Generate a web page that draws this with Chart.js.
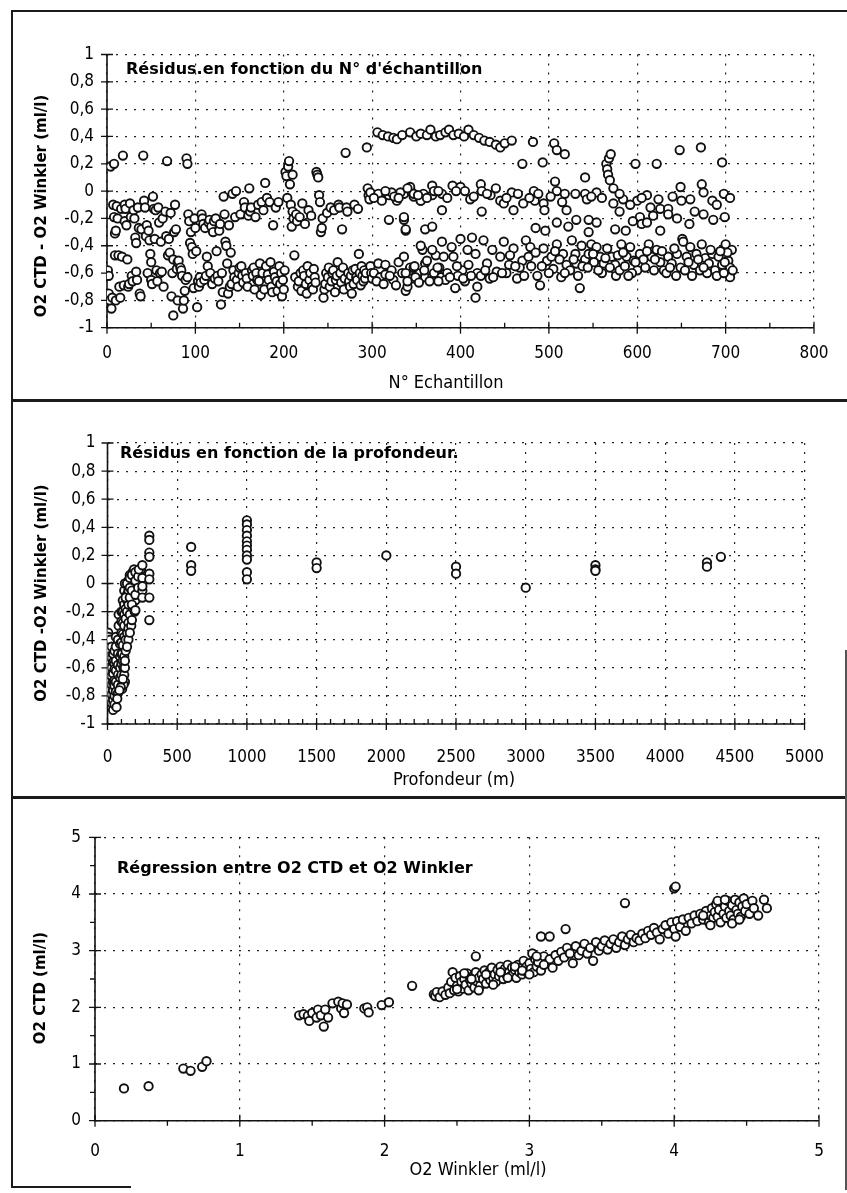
<!DOCTYPE html>
<html>
<head>
<meta charset="utf-8">
<script src="https://cdn.jsdelivr.net/npm/chart.js@4.4.1/dist/chart.umd.min.js"></script>
<style>
html,body{margin:0;padding:0;background:#fff;}
#page{position:relative;width:847px;height:1193px;overflow:hidden;background:#fff;}
canvas{position:absolute;left:0;}
.ln{position:absolute;background:#1b1b1b;z-index:5;}
.t{position:absolute;white-space:nowrap;color:#000;z-index:6;line-height:1;}
.pt{font-family:'DejaVu Sans',sans-serif;font-weight:bold;font-size:16px;transform:translateY(-50%);}
.xt{font-family:'DejaVu Sans Condensed','DejaVu Sans',sans-serif;font-size:18px;transform:translate(-50%,-50%);}
.yt{font-family:'DejaVu Sans',sans-serif;font-weight:bold;font-size:15px;transform:translate(-50%,-50%) rotate(-90deg);}
</style>
</head>
<body>
<div id="page">
  <canvas id="c1" width="847" height="400" style="top:0px"></canvas>
  <canvas id="c2" width="847" height="397" style="top:400px"></canvas>
  <canvas id="c3" width="847" height="396" style="top:797px"></canvas>

  <div class="ln" style="left:11px;top:10px;width:836px;height:2px"></div>
  <div class="ln" style="left:11px;top:10px;width:2px;height:1178px"></div>
  <div class="ln" style="left:11px;top:399px;width:836px;height:2.5px"></div>
  <div class="ln" style="left:11px;top:796px;width:836px;height:2.5px"></div>
  <div class="ln" style="left:11px;top:1186px;width:120px;height:2px"></div>
  <div class="ln" style="left:845px;top:650px;width:1.5px;height:540px;background:#555"></div>

  <div class="t pt" style="left:126px;top:69px">Résidus.en fonction du N° d'échantillon</div>
  <div class="t pt" style="left:120px;top:453px">Résidus en fonction de la profondeur.</div>
  <div class="t pt" style="left:117px;top:868px">Régression entre O2 CTD et O2 Winkler</div>

  <div class="t xt" style="left:446px;top:382px">N° Echantillon</div>
  <div class="t xt" style="left:454px;top:779px">Profondeur (m)</div>
  <div class="t xt" style="left:478px;top:1169px">O2 Winkler (ml/l)</div>

  <div class="t yt" style="left:41px;top:206px">O2 CTD - O2 Winkler (ml/l)</div>
  <div class="t yt" style="left:41px;top:593px">O2 CTD -O2 Winkler (ml/l)</div>
  <div class="t yt" style="left:40px;top:988px">O2 CTD (ml/l)</div>
</div>

<script>
// ---------------- Tick labels ----------------
const xTickLabels1 = ['0','100','200','300','400','500','600','700','800'];
const yTickLabels1 = ['-1','-0,8','-0,6','-0,4','-0,2','0','0,2','0,4','0,6','0,8','1'];
const xTickLabels2 = ['0','500','1000','1500','2000','2500','3000','3500','4000','4500','5000'];
const yTickLabels2 = ['-1','-0,8','-0,6','-0,4','-0,2','0','0,2','0,4','0,6','0,8','1'];
const xTickLabels3 = ['0','1','2','3','4','5'];
const yTickLabels3 = ['0','1','2','3','4','5'];

// ---------------- Panel 1 : residual vs sample number ----------------
const sampleNoA = [
 1,2,2,3,4,5,6,7,8,8,9,9,10,10,
 11,12,13,14,15,16,17,18,19,20,20,
 21,22,23,24,25,26,27,28,29,30,
 31,32,33,33,34,35,36,37,38,39,
 41,42,43,44,45,46,47,48,49,50,50,
 51,52,53,54,55,56,57,58,59,60,
 61,62,63,64,66,67,68,69,70,
 71,72,73,74,75,75,76,77,78,79,80,80,
 81,83,84,85,86,87,88,89,90,91,91,
 92,93,94,95,96,97,98,99,100];
const residualA = [
 -0.58,-0.62,-0.75,-0.8,0.18,-0.86,-0.78,-0.1,0.2,-0.19,-0.31,-0.47,-0.8,-0.29,
 -0.11,-0.2,-0.47,-0.7,-0.78,-0.13,-0.48,0.26,-0.69,-0.1,-0.22,
 -0.13,-0.25,-0.5,-0.7,-0.68,-0.09,-0.19,-0.62,-0.66,-0.14,
 -0.2,-0.34,-0.38,-0.59,-0.65,-0.12,-0.27,-0.75,-0.77,-0.28,
 0.26,-0.07,-0.12,-0.33,-0.25,-0.6,-0.29,-0.36,-0.46,-0.52,-0.65,
 -0.68,-0.04,-0.13,-0.35,-0.14,-0.58,-0.66,-0.12,-0.23,-0.6,
 -0.37,-0.59,-0.2,-0.7,-0.15,-0.33,0.22,-0.47,-0.35,
 -0.45,-0.16,-0.77,-0.6,-0.91,-0.5,-0.3,-0.1,-0.28,-0.57,-0.52,-0.8,
 -0.51,-0.56,-0.58,-0.62,-0.86,-0.8,-0.73,-0.65,0.24,0.2,-0.63,
 -0.17,-0.22,-0.38,-0.3,-0.41,-0.46,-0.71,-0.2,-0.27];

const sampleNoB = [
 101,102,103,104,105,106,107,108,109,110,
 111,112,113,114,115,116,117,118,119,120,
 121,122,123,124,125,126,127,128,129,130,
 131,132,133,134,135,136,137,138,139,140,
 141,142,143,144,145,146,147,148,149,150,
 151,152,153,154,155,156,157,158,159,160,
 161,162,163,164,165,166,167,168,169,170,
 171,172,173,174,175,176,177,178,179,180,
 181,182,183,184,185,186,187,188,189,190,
 191,192,193,194,195,196,197,198,199,200];
const residualB = [
 -0.44,-0.85,-0.66,-0.7,-0.63,-0.67,-0.17,-0.2,-0.24,-0.65,
 -0.27,-0.62,-0.48,-0.55,-0.23,-0.21,-0.6,-0.26,-0.68,-0.3,
 -0.22,-0.64,-0.2,-0.44,-0.62,-0.66,-0.29,-0.24,-0.83,-0.6,
 -0.74,-0.04,-0.17,-0.37,-0.4,-0.53,-0.75,-0.25,-0.7,-0.45,
 -0.68,-0.02,-0.58,-0.63,-0.19,0.0,-0.65,-0.7,-0.6,-0.56,
 -0.17,-0.55,-0.62,-0.67,-0.08,-0.12,-0.6,-0.64,-0.7,-0.18,
 0.02,-0.15,-0.12,-0.58,-0.62,-0.56,-0.72,-0.19,-0.6,-0.65,
 -0.1,-0.66,-0.53,-0.76,-0.08,-0.6,-0.14,-0.72,0.06,-0.55,
 -0.05,-0.61,-0.65,-0.08,-0.52,-0.7,-0.74,-0.25,-0.59,-0.63,
 -0.12,-0.66,-0.73,-0.08,-0.55,-0.68,-0.6,-0.77,-0.65,-0.72];

const sampleNoC = [
 201,202,203,204,205,206,207,208,209,210,210,
 211,212,213,214,215,216,217,218,219,220,
 221,222,223,224,225,226,227,228,229,230,
 231,232,233,234,235,236,237,238,239,240,
 241,242,243,244,245,246,247,248,249,250,
 251,252,253,254,255,256,257,258,259,260,
 261,262,263,264,265,266,267,268,269,270,
 271,272,273,274,275,276,277,278,279,280,
 281,282,283,284,285,286,287,288,289,290,
 291,292,293,294,295,296,297,298,299,300];
const residualC = [
 -0.58,0.14,0.11,-0.05,0.18,0.22,0.05,-0.1,-0.26,-0.15,0.12,
 -0.2,-0.47,-0.63,-0.17,-0.22,-0.7,-0.66,-0.19,-0.6,-0.73,
 -0.09,-0.58,-0.62,-0.24,-0.68,-0.75,-0.55,-0.14,-0.65,-0.6,
 -0.18,-0.7,-0.72,-0.57,-0.63,-0.67,0.14,0.12,0.1,-0.03,
 -0.08,-0.3,-0.27,-0.2,-0.78,-0.72,-0.68,-0.6,-0.16,-0.63,
 -0.56,-0.7,-0.12,-0.66,-0.6,-0.58,-0.14,-0.74,-0.65,-0.62,
 -0.52,-0.1,-0.12,-0.6,-0.67,-0.28,-0.56,-0.72,-0.64,0.28,
 -0.12,-0.15,-0.6,-0.66,-0.7,-0.62,-0.75,-0.58,-0.68,-0.1,
 -0.57,-0.63,-0.65,-0.13,-0.46,-0.6,-0.69,-0.55,-0.62,-0.66,
 -0.58,-0.64,-0.6,0.32,0.02,-0.03,-0.06,-0.55,-0.6,-0.64];

// upper band (x > 300)
const sampleNoUp = [
 306,312,318,324,328,334,343,350,355,362,
 366,372,377,383,387,392,398,404,409,415,
 421,427,433,440,445,450,458,470,482,493,
 506,509,518,541,565,568,570,566,567,569,
 573,598,622,648,672,696];
const residualUp = [
 0.43,0.41,0.4,0.39,0.38,0.41,0.43,0.4,0.42,0.41,
 0.45,0.4,0.41,0.43,0.45,0.41,0.42,0.4,0.45,0.41,
 0.39,0.37,0.36,0.34,0.32,0.35,0.37,0.2,0.36,0.21,
 0.35,0.3,0.27,0.1,0.2,0.24,0.27,0.16,0.12,0.08,
 0.02,0.2,0.2,0.3,0.32,0.21];

// middle band (x > 300)
const sampleNoMid = [
 298,307,311,319,322,328,336,345,347,355,358,368,319,336,338,360,
 332,343,347,355,368,370,379,391,400,411,
 423,424,434,445,449,458,460,471,483,484,
 494,495,507,509,518,530,541,543,554,573,
 584,600,611,624,626,635,649,650,673,675,
 685,698,
 336,338,368,379,424,485,496,509,520,522,
 531,545,545,554,575,587,603,605,611,626,
 635,651,659,675,686,699,
 515,548,560,580,592,605,615,640,660,690,
 580,595,618,645,665,705,
 302,315,325,330,340,352,362,375,385,395,
 405,415,430,440,452,465,478,488,502];
const residualMid = [
 -0.01,-0.02,-0.07,-0.03,-0.01,-0.07,-0.02,-0.01,-0.04,-0.07,-0.02,-0.03,-0.21,-0.21,-0.29,-0.28,
 -0.01,0.03,-0.02,-0.07,0.04,0.0,-0.02,0.04,0.03,-0.06,
 0.05,0.0,-0.03,-0.07,-0.09,-0.01,-0.14,-0.09,0.0,-0.07,
 -0.09,-0.14,0.07,0.0,-0.02,-0.02,-0.02,-0.06,-0.01,-0.09,
 -0.06,-0.07,-0.03,-0.06,-0.13,-0.13,0.03,-0.07,0.05,-0.01,
 -0.07,-0.02,
 -0.19,-0.28,-0.26,-0.14,-0.15,-0.27,-0.29,-0.23,-0.14,-0.26,
 -0.21,-0.21,-0.3,-0.23,-0.28,-0.29,-0.19,-0.24,-0.23,-0.29,
 -0.17,-0.35,-0.24,-0.17,-0.21,-0.19,
 -0.08,-0.04,-0.05,-0.02,-0.1,-0.05,-0.12,-0.04,-0.06,-0.1,
 -0.15,-0.22,-0.18,-0.2,-0.15,-0.05,
 -0.05,0.0,-0.04,-0.05,0.02,-0.03,-0.05,0.0,-0.05,0.0,
 0.0,-0.04,-0.02,0.02,-0.05,-0.02,-0.05,-0.02,-0.04];

// lower band (x > 300)
const sampleNoLow = [
 302,307,309,315,315,322,324,330,334,338,
 343,345,351,357,360,360,368,372,376,378,
 336,338,340,347,349,355,359,362,368,370,
 374,379,381,385,390,392,394,400,402,408,
 409,413,417,419,419,417,426,430,436,441,
 445,449,455,460,464,470,474,477,487,490,
 494,498,503,505,509,514,516,520,526,530,
 531,535,537,541,545,548,554,558,562,566,
 571,575,576,580,582,588,592,596,600,603,
 609,613,616,622,626,630,635,639,645,649,
 652,656,660,664,667,671,673,677,681,685,
 688,692,696,700,703,705,707,705,
 383,397,405,423,433,452,467,480,500,512,
 524,538,551,560,578,586,594,607,619,633,
 642,654,662,679,690,698,702,708,
 305,313,320,327,340,348,353,365,375,388,
 396,403,412,428,437,447,456,462,472,479,
 485,492,507,518,528,533,544,550,556,564,
 569,584,590,598,611,620,628,637,644,658,
 669,675,683,694,699];
const residualLow = [
 -0.6,-0.53,-0.63,-0.54,-0.61,-0.58,-0.65,-0.52,-0.6,-0.73,
 -0.56,-0.64,-0.6,-0.43,-0.53,-0.63,-0.63,-0.47,-0.56,-0.63,
 -0.48,-0.6,-0.7,-0.56,-0.63,-0.4,-0.58,-0.51,-0.43,-0.6,
 -0.56,-0.37,-0.48,-0.6,-0.41,-0.48,-0.71,-0.35,-0.58,-0.43,
 -0.54,-0.34,-0.46,-0.6,-0.7,-0.78,-0.36,-0.53,-0.43,-0.59,
 -0.48,-0.37,-0.54,-0.42,-0.64,-0.51,-0.36,-0.48,-0.62,-0.69,
 -0.42,-0.51,-0.48,-0.57,-0.39,-0.63,-0.46,-0.54,-0.36,-0.46,
 -0.53,-0.71,-0.4,-0.5,-0.46,-0.39,-0.41,-0.48,-0.53,-0.42,
 -0.48,-0.54,-0.62,-0.58,-0.39,-0.48,-0.41,-0.51,-0.58,-0.46,
 -0.56,-0.39,-0.48,-0.43,-0.52,-0.58,-0.48,-0.53,-0.46,-0.56,
 -0.37,-0.48,-0.41,-0.54,-0.46,-0.58,-0.39,-0.49,-0.53,-0.46,
 -0.58,-0.48,-0.54,-0.39,-0.51,-0.63,-0.43,-0.56,
 -0.65,-0.62,-0.66,-0.62,-0.64,-0.6,-0.56,-0.55,-0.6,-0.5,
 -0.58,-0.55,-0.52,-0.6,-0.47,-0.55,-0.6,-0.5,-0.58,-0.6,
 -0.42,-0.58,-0.62,-0.6,-0.62,-0.6,-0.45,-0.58,
 -0.66,-0.68,-0.62,-0.69,-0.66,-0.55,-0.67,-0.66,-0.66,-0.63,
 -0.55,-0.64,-0.62,-0.58,-0.63,-0.6,-0.47,-0.55,-0.62,-0.41,
 -0.45,-0.55,-0.44,-0.6,-0.5,-0.62,-0.56,-0.46,-0.58,-0.49,
 -0.56,-0.45,-0.62,-0.52,-0.44,-0.5,-0.44,-0.56,-0.62,-0.52,
 -0.5,-0.56,-0.43,-0.44,-0.52];

// ---------------- Panel 2 : residual vs depth ----------------
const depthSurf = [
 5,5,5,5,5,5,5, 10,10,10,10,10,10,10, 20,20,20,20,20,20,20, 30,30,30,30,30,30,30];
const residualSurf = [
 -0.35,-0.42,-0.5,-0.58,-0.63,-0.7,-0.78, -0.38,-0.46,-0.55,-0.6,-0.67,-0.74,-0.8,
 -0.4,-0.48,-0.52,-0.62,-0.7,-0.76,-0.82, -0.45,-0.53,-0.6,-0.66,-0.72,-0.79,-0.85];
const depthMix = [
 40,40,40,40,40,40,40, 50,50,50,50,50,50,50, 60,60,60,60,60,60,
 75,75,75,75,75,75, 80,80, 90,90,90,90, 100,100,100,100,100,100,100,100,
 105,110,115,120,125,105,115,125,110,120,95,85,70,65,115,125];
const residualMix = [
 -0.5,-0.56,-0.64,-0.7,-0.76,-0.83,-0.9, -0.48,-0.57,-0.61,-0.69,-0.73,-0.8,-0.86,
 -0.38,-0.45,-0.55,-0.62,-0.7,-0.77,
 -0.4,-0.5,-0.58,-0.65,-0.72,-0.78, -0.3,-0.22, -0.43,-0.52,-0.6,-0.67,
 -0.35,-0.42,-0.5,-0.57,-0.65,-0.73,-0.2,-0.27,
 -0.5,-0.55,-0.6,-0.65,-0.7,-0.75,-0.72,-0.6,-0.68,-0.52,-0.74,-0.76,-0.82,-0.88,-0.45,-0.55];
const depthThermo = [
 110,110,110,110,110, 120,120,120,120,120, 125, 130,130,130,130,
 140,140,140,140, 150,150,150,150,150,
 130,140,160,180,190,210,230,240,260,170,150,140,180,200,160];
const residualThermo = [
 -0.12,-0.2,-0.28,-0.36,-0.44, -0.05,-0.15,-0.22,-0.3,-0.38, 0.0, -0.18,-0.25,-0.4,-0.48,
 -0.08,-0.12,-0.2,-0.35, 0.02,-0.05,-0.15,-0.28,-0.32,
 -0.1,0.0,0.06,0.08,0.1,0.0,-0.08,0.1,0.02,-0.3,-0.4,-0.45,-0.2,-0.12,-0.35];
const depthSub = [
 160,160,160,160, 175,175,175,175, 195, 200,200,200,200, 220,220,225,
 250,250,250,250,250, 300,300,300,300,300,300,300,300];
const residualSub = [
 0.04,-0.03,-0.1,-0.22, 0.06,-0.05,-0.15,-0.26, -0.2, 0.08,0.02,-0.08,-0.19, 0.05,-0.03,0.1,
 0.13,0.04,-0.05,-0.1,-0.02, 0.34,0.31,0.22,0.19,0.07,0.03,-0.1,-0.26];
const depthDeep = [
 600,600,600, 1000,1000,1000,1000,1000,1000,1000,1000,1000,1000,1000,
 1500,1500, 2000, 2500,2500, 3000, 3500,3500,3500, 4300,4300, 4400];
const residualDeep = [
 0.26,0.13,0.09, 0.45,0.42,0.38,0.34,0.3,0.27,0.24,0.2,0.17,0.08,0.03,
 0.15,0.11, 0.2, 0.12,0.07, -0.03, 0.13,0.1,0.09, 0.15,0.12, 0.19];

// ---------------- Panel 3 : O2 CTD vs O2 Winkler ----------------
const winklerLow = [0.2,0.37,0.61,0.66,0.74,0.77];
const ctdLow     = [0.57,0.61,0.92,0.88,0.95,1.05];
const winklerMid = [1.41,1.44,1.47,1.48,1.5,1.53,1.54,1.56,1.58,1.59,1.61,1.64,1.68,1.70,1.71,1.72,1.74,1.86,1.88,1.89,1.98,2.03,2.19];
const ctdMid     = [1.86,1.88,1.85,1.76,1.9,1.82,1.96,1.86,1.66,1.96,1.82,2.07,2.1,1.98,2.07,1.9,2.05,1.98,2.0,1.91,2.04,2.09,2.38];
const winklerOut = [2.63,3.08,3.14,3.25,3.66,4.0,4.01];
const ctdOut     = [2.9,3.25,3.25,3.38,3.84,4.1,4.13];
const winklerBand = [
 2.34,2.35,2.36,2.38,2.40,2.42,2.44,2.45,2.46,2.47,
 2.48,2.49,2.50,2.51,2.52,2.53,2.54,2.55,2.56,2.57,
 2.58,2.59,2.60,2.61,2.62,2.63,2.64,2.65,2.66,2.67,
 2.68,2.69,2.70,2.71,2.72,2.73,2.74,2.75,2.76,2.77,
 2.78,2.79,2.80,2.81,2.82,2.83,2.84,2.85,2.86,2.87,
 2.88,2.89,2.90,2.91,2.92,2.93,2.94,2.95,2.96,2.97,
 2.98,2.99,3.00,3.01,3.02,3.03,3.04,3.05,3.06,3.08,
 3.10,3.12,3.14,3.16,3.18,3.20,3.22,3.24,3.26,3.28,
 3.30,3.32,3.34,3.36,3.38,3.40,3.42,3.44,3.46,3.48,
 3.50,3.52,3.54,3.56,3.58,3.60,3.62,3.64,3.66,3.68,
 3.70,3.72,3.74,3.76,3.78,3.80,3.82,3.84,3.86,3.88,
 3.90,3.92,3.94,3.96,3.98,4.00,4.01,4.02,4.04,4.06,
 4.08,4.10,4.12,4.14,4.16,4.18,4.20,4.22,4.24,4.25,
 4.26,4.27,4.28,4.29,4.30,4.31,4.32,4.33,4.34,4.35,
 4.36,4.37,4.38,4.39,4.40,4.41,4.42,4.43,4.44,4.45,
 4.46,4.47,4.48,4.49,4.50,4.52,4.54,4.55,4.62,4.64,
 2.50,2.55,2.60,2.65,2.70,2.75,2.80,2.85,2.90,2.95,
 3.00,3.05,3.10,4.30,4.35,4.40,4.45,4.25,4.20,4.58];
const ctdBand = [
 2.23,2.20,2.27,2.18,2.28,2.22,2.35,2.25,2.45,2.62,
 2.30,2.52,2.38,2.28,2.55,2.45,2.33,2.50,2.40,2.60,
 2.30,2.48,2.42,2.55,2.35,2.62,2.45,2.52,2.38,2.58,
 2.50,2.65,2.42,2.55,2.62,2.48,2.70,2.52,2.58,2.45,
 2.66,2.55,2.72,2.60,2.50,2.68,2.58,2.75,2.62,2.55,
 2.70,2.60,2.66,2.52,2.75,2.62,2.70,2.58,2.82,2.65,
 2.72,2.60,2.78,2.68,2.95,2.62,2.85,2.72,2.80,2.65,
 2.90,2.78,2.85,2.70,2.92,2.82,2.98,2.88,3.05,2.95,
 2.78,3.08,2.92,3.00,3.12,2.95,3.05,2.82,3.15,3.00,
 3.08,3.18,3.02,3.12,3.20,3.05,3.15,3.25,3.10,3.20,
 3.28,3.15,3.22,3.18,3.30,3.22,3.35,3.28,3.40,3.32,
 3.20,3.38,3.45,3.30,3.50,3.38,3.25,3.52,3.42,3.55,
 3.35,3.58,3.48,3.62,3.52,3.65,3.55,3.70,3.50,3.62,
 3.75,3.58,3.68,3.82,3.60,3.72,3.50,3.85,3.65,3.78,
 3.58,3.88,3.70,3.62,3.80,3.55,3.90,3.72,3.65,3.85,
 3.60,3.78,3.92,3.70,3.82,3.65,3.88,3.75,3.90,3.75,
 2.32,2.60,2.50,2.30,2.58,2.40,2.62,2.52,2.72,2.65,
 2.58,2.90,2.75,3.88,3.90,3.48,3.55,3.45,3.62,3.62];

// ---------------- helpers ----------------
function pairs(xs, ys) {
  const n = Math.min(xs.length, ys.length), out = [];
  for (let i = 0; i < n; i++) out.push({x: xs[i], y: ys[i]});
  return out;
}
const FONT = "'DejaVu Sans Condensed', 'DejaVu Sans', sans-serif";

const excelAxes = {
  id: 'excelAxes',
  beforeDatasetsDraw(chart, args, o) {
    const {ctx, chartArea: a, scales: {x, y}} = chart;
    ctx.save();
    ctx.setLineDash([]);
    ctx.strokeStyle = '#111';
    ctx.lineWidth = 1.6;
    ctx.beginPath();
    ctx.moveTo(a.left, a.top); ctx.lineTo(a.left, a.bottom); ctx.lineTo(a.right, a.bottom);
    ctx.stroke();
    ctx.lineWidth = 1.3;
    ctx.beginPath();
    x.ticks.forEach(t => { const p = x.getPixelForValue(t.value); ctx.moveTo(p, a.bottom - 6); ctx.lineTo(p, a.bottom + 6); });
    y.ticks.forEach(t => { const p = y.getPixelForValue(t.value); ctx.moveTo(a.left - 6, p); ctx.lineTo(a.left + 6, p); });
    if (o.xMinor) {
      const dir = o.xMinorDir || 1;
      for (let v = x.min + o.xMinor; v < x.max - 1e-9; v += o.xMinor) {
        const p = x.getPixelForValue(v);
        ctx.moveTo(p, a.bottom); ctx.lineTo(p, a.bottom + 5 * dir);
      }
    }
    if (o.yMinor) {
      for (let v = y.min + o.yMinor; v < y.max - 1e-9; v += o.yMinor) {
        const p = y.getPixelForValue(v);
        ctx.moveTo(a.left, p); ctx.lineTo(a.left - 5, p);
      }
    }
    ctx.stroke();
    ctx.restore();
  }
};

function makeChart(id, data, cfg) {
  const tickFont = {family: FONT, size: 17};
  new Chart(document.getElementById(id), {
    type: 'scatter',
    data: {datasets: [{
      data: data,
      pointRadius: 4.2,
      pointBorderWidth: 1.9,
      pointBorderColor: '#111',
      pointBackgroundColor: '#fff',
      pointHoverRadius: 4.2,
      showLine: false
    }]},
    options: {
      responsive: false,
      animation: false,
      devicePixelRatio: 1,
      layout: {padding: cfg.padding},
      plugins: {legend: {display: false}, tooltip: {enabled: false}, excelAxes: cfg.axes},
      scales: {
        x: {
          type: 'linear', min: cfg.xMin, max: cfg.xMax,
          ticks: {stepSize: cfg.xStep, autoSkip: false, maxRotation: 0, minRotation: 0,
                  color: '#000', font: tickFont, padding: cfg.xPad,
                  callback: (v, i) => cfg.xLabels[i]},
          grid: {color: '#222', lineWidth: 1.2, drawTicks: false},
          border: {display: false, dash: [2, 7]},
          afterFit: s => { s.height = 60; }
        },
        y: {
          type: 'linear', min: cfg.yMin, max: cfg.yMax,
          ticks: {stepSize: cfg.yStep, autoSkip: false, color: '#000', font: tickFont, padding: cfg.yPad,
                  callback: (v, i) => cfg.yLabels[i]},
          grid: {color: '#222', lineWidth: 1.2, drawTicks: false},
          border: {display: false, dash: [2, 7]},
          afterFit: s => { s.width = cfg.yWidth; }
        }
      }
    },
    plugins: [excelAxes]
  });
}

const panel1 = [].concat(
  pairs(sampleNoA, residualA), pairs(sampleNoB, residualB), pairs(sampleNoC, residualC),
  pairs(sampleNoUp, residualUp), pairs(sampleNoMid, residualMid), pairs(sampleNoLow, residualLow));
const panel2 = [].concat(
  pairs(depthSurf, residualSurf), pairs(depthMix, residualMix), pairs(depthThermo, residualThermo),
  pairs(depthSub, residualSub), pairs(depthDeep, residualDeep));
const panel3 = [].concat(
  pairs(winklerLow, ctdLow), pairs(winklerMid, ctdMid), pairs(winklerOut, ctdOut), pairs(winklerBand, ctdBand));

makeChart('c1', panel1, {
  padding: {left: 0, top: 54.5, right: 33, bottom: 12.3},
  xMin: 0, xMax: 800, xStep: 100, xLabels: xTickLabels1, xPad: 16,
  yMin: -1, yMax: 1, yStep: 0.2, yLabels: yTickLabels1, yPad: 13, yWidth: 107,
  axes: {xMinor: 50, xMinorDir: -1}
});
makeChart('c2', panel2, {
  padding: {left: 0, top: 43, right: 34.3, bottom: 13},
  xMin: 0, xMax: 5000, xStep: 500, xLabels: xTickLabels2, xPad: 23,
  yMin: -1, yMax: 1, yStep: 0.2, yLabels: yTickLabels2, yPad: 12, yWidth: 107.5,
  axes: {xMinor: 100, xMinorDir: -1}
});
makeChart('c3', panel3, {
  padding: {left: 0, top: 40.3, right: 28, bottom: 12.3},
  xMin: 0, xMax: 5, xStep: 1, xLabels: xTickLabels3, xPad: 21,
  yMin: 0, yMax: 5, yStep: 1, yLabels: yTickLabels3, yPad: 14, yWidth: 95,
  axes: {xMinor: 0.5, xMinorDir: 1, yMinor: 0.5}
});
</script>
</body>
</html>
